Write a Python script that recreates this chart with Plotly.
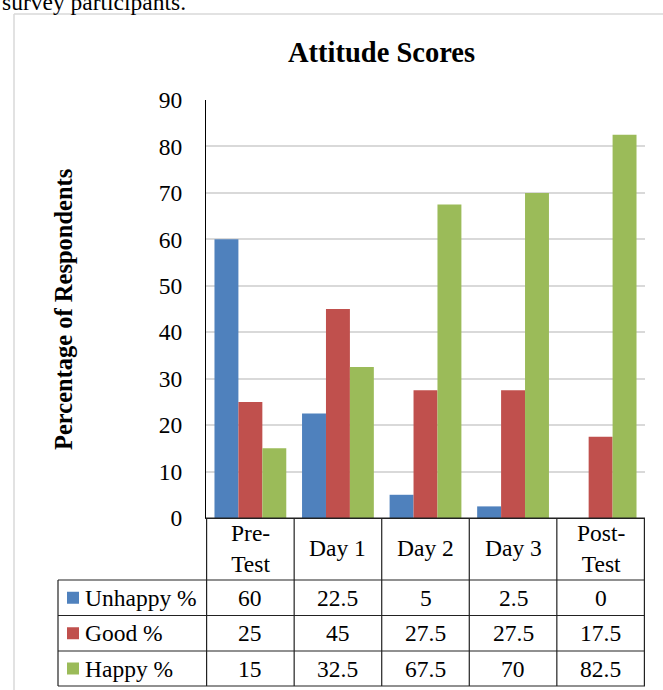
import plotly.graph_objects as go

categories = ["Pre-Test", "Day 1", "Day 2", "Day 3", "Post-Test"]
category_labels = ["Pre-<br>Test", "Day 1", "Day 2", "Day 3", "Post-<br>Test"]
series_names = ["Unhappy %", "Good %", "Happy %"]
unhappy = [60, 22.5, 5, 2.5, 0]
good = [25, 45, 27.5, 27.5, 17.5]
happy = [15, 32.5, 67.5, 70, 82.5]
series_values = [unhappy, good, happy]
series_colors = ["#4F81BD", "#C0504D", "#9BBB59"]
y_ticks = [0, 10, 20, 30, 40, 50, 60, 70, 80, 90]

W, H = 663, 690
L, R, T, B = 206, 645, 100, 518
FONT = "Liberation Serif"
TXT = 23.5


def xp(px):
    return (px - L) / (R - L)


def yp(py):
    return (B - py) / (B - T)


fig = go.Figure()
for name, vals, col in zip(series_names, series_values, series_colors):
    fig.add_trace(go.Bar(x=categories, y=vals, name=name, marker_color=col,
                         marker_line_width=0, showlegend=False))

shapes = []
annotations = []
line_col = "#222222"

# outer chart border (left and top edges visible)
border = dict(color="#D9D9D9", width=1.5)
shapes.append(dict(type="line", xref="paper", yref="paper", x0=xp(14), x1=xp(14),
                   y0=yp(14), y1=yp(H), line=border, layer="below"))
shapes.append(dict(type="line", xref="paper", yref="paper", x0=xp(14), x1=xp(W),
                   y0=yp(14), y1=yp(14), line=border, layer="below"))

# table geometry
header_top, header_bot = 518, 580
row_edges = [580, 615.5, 651, 686]
label_left = 58

for i in range(len(categories) + 1):
    shapes.append(dict(type="line", xref="x", yref="paper", x0=i - 0.5, x1=i - 0.5,
                       y0=yp(header_top), y1=yp(row_edges[-1]),
                       line=dict(color=line_col, width=1.2)))
shapes.append(dict(type="line", xref="paper", yref="paper", x0=xp(label_left), x1=xp(label_left),
                   y0=yp(row_edges[0]), y1=yp(row_edges[-1]), line=dict(color=line_col, width=1.2)))
shapes.append(dict(type="line", xref="paper", yref="paper", x0=0, x1=1,
                   y0=yp(header_top), y1=yp(header_top), line=dict(color=line_col, width=1.2)))
for ye in row_edges:
    shapes.append(dict(type="line", xref="paper", yref="paper", x0=xp(label_left), x1=1,
                       y0=yp(ye), y1=yp(ye), line=dict(color=line_col, width=1.2)))

for i, lab in enumerate(category_labels):
    annotations.append(dict(x=i, xref="x", y=yp((header_top + header_bot) / 2 - 1), yref="paper",
                            text=lab, showarrow=False, xanchor="center", yanchor="middle",
                            font=dict(family=FONT, size=TXT, color="black")))

for r, (name, vals, col) in enumerate(zip(series_names, series_values, series_colors)):
    yc = (row_edges[r] + row_edges[r + 1]) / 2
    shapes.append(dict(type="rect", xref="paper", yref="paper", x0=xp(67), x1=xp(79),
                       y0=yp(yc - 6), y1=yp(yc + 6), fillcolor=col, line=dict(width=0)))
    annotations.append(dict(x=xp(83), xref="paper", y=yp(yc), yref="paper", text=name,
                            showarrow=False, xanchor="left", yanchor="middle",
                            font=dict(family=FONT, size=TXT, color="black")))
    for i, v in enumerate(vals):
        annotations.append(dict(x=i, xref="x", y=yp(yc), yref="paper", text=f"{v:g}",
                                showarrow=False, xanchor="center", yanchor="middle",
                                font=dict(family=FONT, size=TXT, color="black")))

annotations.append(dict(x=xp(381), xref="paper", y=yp(52), yref="paper", text="<b>Attitude Scores</b>",
                        showarrow=False, xanchor="center", yanchor="middle",
                        font=dict(family=FONT, size=28.5, color="black")))
annotations.append(dict(x=xp(63), xref="paper", y=yp(310), yref="paper",
                        text="<b>Percentage of Respondents</b>", textangle=-90,
                        showarrow=False, xanchor="center", yanchor="middle",
                        font=dict(family=FONT, size=24.5, color="black")))
annotations.append(dict(x=xp(0), xref="paper", y=yp(2), yref="paper", text="survey participants.",
                        showarrow=False, xanchor="left", yanchor="middle",
                        font=dict(family=FONT, size=TXT, color="black")))

fig.update_layout(
    width=W, height=H,
    margin=dict(l=L, r=W - R, t=T, b=H - B, pad=0),
    paper_bgcolor="white", plot_bgcolor="white",
    barmode="group", bargap=0.18, bargroupgap=0,
    shapes=shapes, annotations=annotations,
    xaxis=dict(type="category", categoryorder="array", categoryarray=categories,
               showticklabels=False, showgrid=False, zeroline=False,
               showline=True, linecolor=line_col, linewidth=1.2, ticks=""),
    yaxis=dict(range=[0, 90], tickvals=y_ticks, showgrid=True, gridcolor="#D9D9D9", gridwidth=1.5,
               zeroline=False, showline=True, linecolor="black", linewidth=1.2,
               ticks="", ticklabelstandoff=18,
               tickfont=dict(family=FONT, size=TXT, color="black")),
    font=dict(family=FONT),
)

fig.write_html("out.html", config={"displayModeBar": False},
               post_script=("document.documentElement.style.overflow='hidden';"
                            "document.body.style.margin='0';document.body.style.overflow='hidden';"))
